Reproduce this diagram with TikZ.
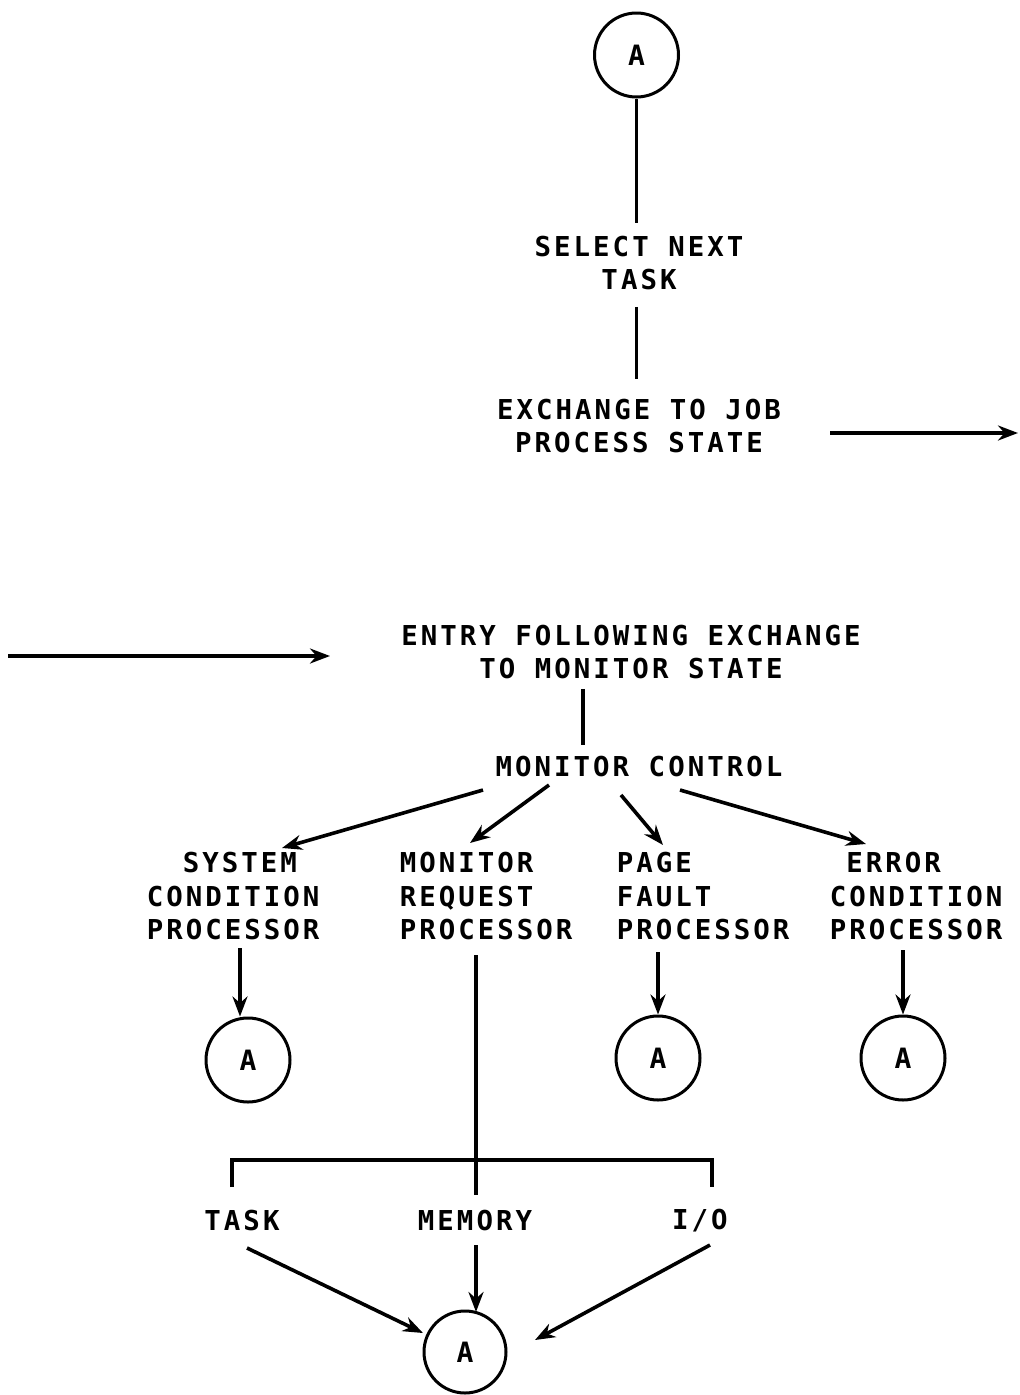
\documentclass[tikz,border=0pt]{standalone}
\usepackage{fontspec}
\setmonofont[LetterSpace=11]{DejaVu Sans Mono}
\usetikzlibrary{arrows.meta,calc}
\begin{document}
\begin{tikzpicture}[x=1pt,y=-1pt,line width=3.6pt,
  >={Stealth[length=20pt,width=15pt]},
  txt/.style={font=\ttfamily\bfseries\fontsize{27.4}{33.5}\selectfont,inner sep=0pt,align=center},
  txl/.style={txt,align=left,anchor=west},
  conn/.style={draw,circle,minimum size=84pt,inner sep=0pt,line width=3pt,
    font=\ttfamily\bfseries\fontsize{28}{28}\selectfont}]
\useasboundingbox (0,0) rectangle (1020,1395);
% top part
\node[conn] (a0) at (636.5,55) {A};
\node[txt] (sel) at (639,263) {SELECT NEXT\\TASK};
\node[txt] (exch) at (639,426) {EXCHANGE TO JOB\\PROCESS STATE};
\draw[shorten >=11pt] (a0.south) -- (a0.south |- sel.north);
\draw[shorten <=15pt,shorten >=18pt] (a0.south |- sel.south) -- (a0.south |- exch.north);
\coordinate (outR0) at (830,433);
\coordinate (outR1) at (1018,433);
\draw[->] (outR0) -- (outR1);
% second part
\coordinate (inL0) at (8,656);
\coordinate (inL1) at (330,656);
\draw[->] (inL0) -- (inL1);
\node[txt] (entry) at (631,652) {ENTRY FOLLOWING EXCHANGE\\TO MONITOR STATE};
\node[txt] (mc) at (639,767) {MONITOR CONTROL};
\coordinate (mcx) at (583,700);
\draw[shorten <=8pt,shorten >=10pt] (entry.south -| mcx) -- (mc.north -| mcx);
\node[txl] (scp) at (145,896.5) {\phantom{SY}SYSTEM\\CONDITION\\PROCESSOR};
\node[txl] (mrp) at (398,896.5) {MONITOR\\REQUEST\\PROCESSOR};
\node[txl] (pfp) at (615,896.5) {PAGE\\FAULT\\PROCESSOR};
\node[txl] (ecp) at (828,896.5) {\phantom{E}ERROR\\CONDITION\\PROCESSOR};
\coordinate (m1) at (483,790); \coordinate (s1) at (282,848);
\coordinate (m2) at (549,785); \coordinate (s2) at (470,843);
\coordinate (m3) at (621,795); \coordinate (s3) at (663,845);
\coordinate (m4) at (680,790); \coordinate (s4) at (866,844);
\draw[->] (m1) -- (s1);
\draw[->] (m2) -- (s2);
\draw[->] (m3) -- (s3);
\draw[->] (m4) -- (s4);
% A connectors
\node[conn] (a1) at (248,1060) {A};
\node[conn] (a2) at (658,1058) {A};
\node[conn] (a3) at (903,1058) {A};
\coordinate (p1) at (240,948);
\coordinate (p2) at (658,952);
\coordinate (p3) at (903,950);
\draw[->] (p1) -- (p1 |- a1.north);
\draw[->] (p2) -- (a2.north);
\draw[->] (p3) -- (a3.north);
% monitor request branch
\coordinate (b0) at (476,955);
\coordinate (bend) at (476,1195);
\coordinate (bl0) at (232,1187);
\coordinate (bl1) at (232,1160);
\coordinate (br1) at (712,1160);
\coordinate (br0) at (712,1187);
\draw (b0) -- (bend);
\draw (bl0) -- (bl1) -- (br1) -- (br0);
\node[txt] (task) at (242,1221) {TASK};
\node[txt] (mem) at (475,1221) {MEMORY};
\node[txt] (io) at (700,1221) {I/O};
\node[conn,minimum size=82pt] (a4) at (465,1352) {A};
\coordinate (t0) at (247,1248); \coordinate (t1) at (423,1333);
\coordinate (e0) at (476,1245); \coordinate (e1) at (476,1312);
\coordinate (i0) at (710,1245); \coordinate (i1) at (535,1340);
\draw[->] (t0) -- (t1);
\draw[->] (e0) -- (e1);
\draw[->] (i0) -- (i1);
\end{tikzpicture}
\end{document}
